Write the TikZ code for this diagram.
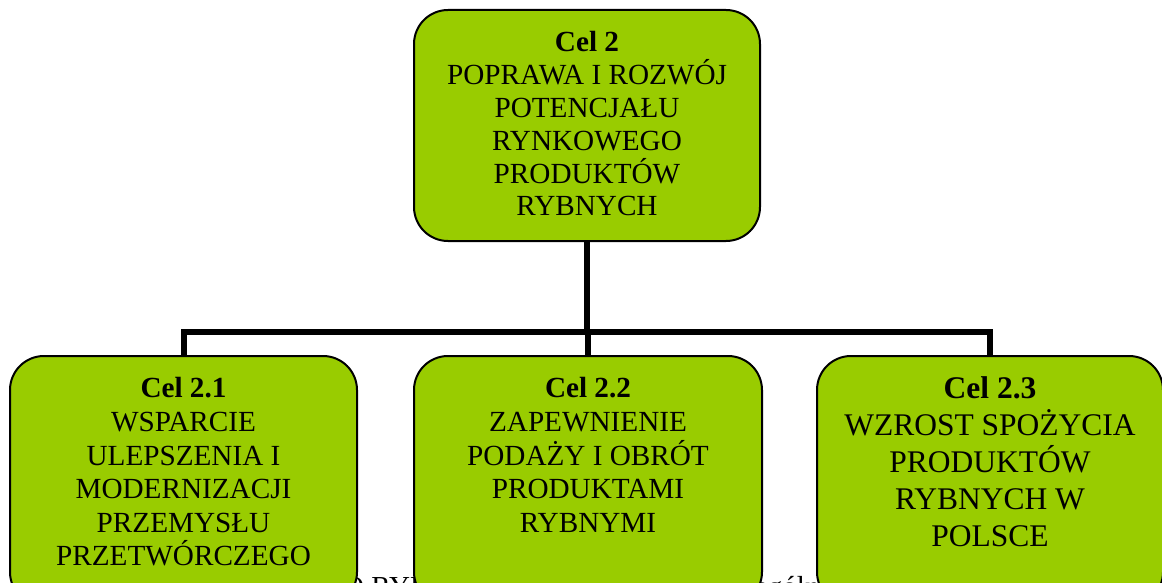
\documentclass[tikz,border=0pt]{standalone}
\usepackage{fontspec}
\setmainfont{Liberation Serif}
\definecolor{boxgreen}{HTML}{99CC00}
\tikzset{
  goalbox/.style={draw=black, line width=2pt, fill=boxgreen, rounded corners=34pt, inner sep=0pt},
  goaltext/.style={align=center, inner sep=0pt, text=black},
  conn/.style={draw=black, line width=6pt},
  bgtext/.style={inner sep=0pt, anchor=base west, font=\fontsize{29}{33}\selectfont}
}
\begin{document}
\begin{tikzpicture}[x=1pt,y=-1pt]
\useasboundingbox (0,0) rectangle (1162,583);
% partially hidden background text
\node[bgtext] (bgA) at (343,596) {O RYB};
\node[bgtext] (bgB) at (742,596) {zególn};
% boxes
\node[goalbox, minimum width=346pt, minimum height=231pt] (top) at (587,125.5) {};
\node[goalbox, minimum width=347pt, minimum height=250pt] (b1) at (183.5,481) {};
\node[goalbox, minimum width=348pt, minimum height=250pt] (b2) at (588,481) {};
\node[goalbox, minimum width=346pt, minimum height=250pt] (b3) at (990,481) {};
% connectors
\coordinate (bus) at (0,332);
\draw[conn] (top.south) -- (top.south |- bus);
\draw[conn] (b1.north) -- (b1.north |- bus) -- (b3.north |- bus) -- (b3.north);
\draw[conn] (b2.north) -- (b2.north |- bus);
% texts
\node[goaltext, font=\fontsize{29.2}{32.8}\selectfont] (t0) at (587,124) {\textbf{Cel 2}\\POPRAWA I ROZWÓJ\\POTENCJAŁU\\RYNKOWEGO\\PRODUKTÓW\\RYBNYCH};
\node[goaltext, font=\fontsize{29.2}{33.6}\selectfont] (t1) at (183.5,472) {\textbf{Cel 2.1}\\WSPARCIE\\ULEPSZENIA I\\MODERNIZACJI\\PRZEMYSŁU\\PRZETWÓRCZEGO};
\node[goaltext, font=\fontsize{29.2}{33.6}\selectfont] (t2) at (588,455) {\textbf{Cel 2.2}\\ZAPEWNIENIE\\PODAŻY I OBRÓT\\PRODUKTAMI\\RYBNYMI};
\node[goaltext, font=\fontsize{31.5}{37}\selectfont] (t3) at (990,462) {\textbf{Cel 2.3}\\WZROST SPOŻYCIA\\PRODUKTÓW\\RYBNYCH W\\POLSCE};
\end{tikzpicture}
\end{document}
